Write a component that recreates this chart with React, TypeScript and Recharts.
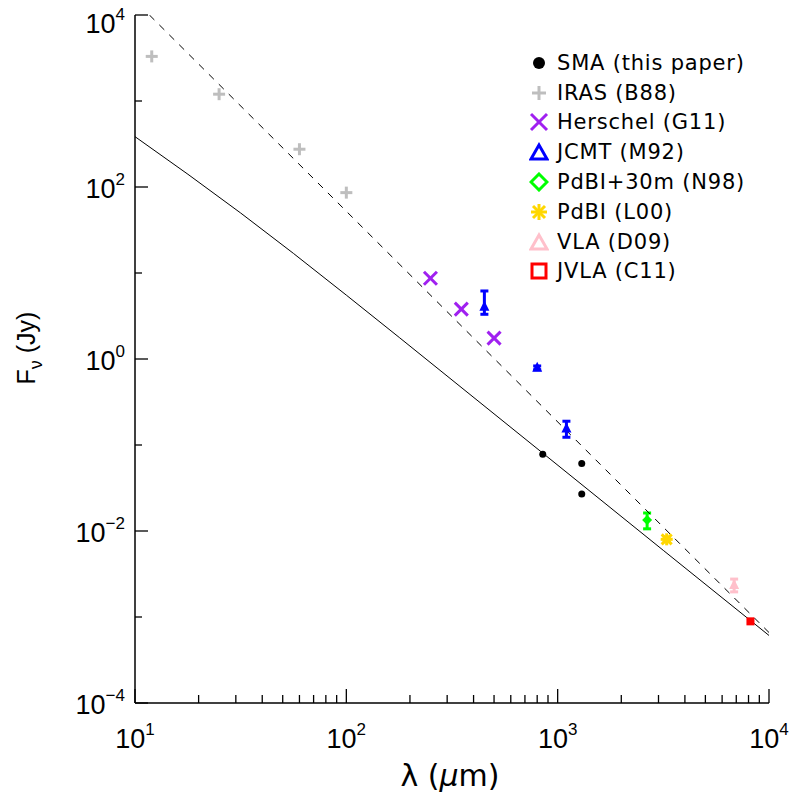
import React from 'react';
import { ScatterChart, Scatter, XAxis, YAxis, ErrorBar, Legend } from 'recharts';

// wavelength in micron, flux in Jy
const smaPoints = [
  { x: 850, y: 0.078 },
  { x: 1300, y: 0.061 },
  { x: 1300, y: 0.027 },
];
const irasPoints = [
  { x: 12, y: 3300 },
  { x: 25, y: 1200 },
  { x: 60, y: 275 },
  { x: 100, y: 86 },
];
const herschelPoints = [
  { x: 250, y: 8.7 },
  { x: 350, y: 3.8 },
  { x: 500, y: 1.75 },
];
const jcmtPoints = [
  { x: 450, y: 4.06, err: [0.75, 2.12] },
  { x: 800, y: 0.79, err: 0.04 },
  { x: 1100, y: 0.156, err: 0.033 },
];
const pdbi30mPoints = [{ x: 2650, y: 0.0134, err: 0.0028 }];
const pdbiPoints = [{ x: 3280, y: 0.008, err: 0.0005 }];
const vlaPoints = [{ x: 6840, y: 0.00236, err: 0.0004 }];
const jvlaPoints = [{ x: 8170, y: 0.00089 }];

// model curve (solid) and power-law fit (dashed)
const modelCurve = [
  { x: 10, y: 385 },
  { x: 17.8, y: 140.6 },
  { x: 31.6, y: 49.9 },
  { x: 56.2, y: 16.9 },
  { x: 100, y: 5.53 },
  { x: 178, y: 1.78 },
  { x: 850, y: 0.0805 },
  { x: 3160, y: 0.00596 },
  { x: 10000, y: 0.00061 },
];
const fitLine = [
  { x: 11.7, y: 10000 },
  { x: 10000, y: 0.00066 },
];

const xTicks = [
  10, 20, 30, 40, 50, 60, 70, 80, 90,
  100, 200, 300, 400, 500, 600, 700, 800, 900,
  1000, 2000, 3000, 4000, 5000, 6000, 7000, 8000, 9000, 10000,
];
const yTicks = [1e-4, 1e-3, 1e-2, 1e-1, 1, 10, 100, 1000, 10000];

const legendItems = [
  { name: 'SMA (this paper)', color: '#000000', symbol: 'dot' },
  { name: 'IRAS (B88)', color: '#BEBEBE', symbol: 'plus' },
  { name: 'Herschel (G11)', color: '#A020F0', symbol: 'cross' },
  { name: 'JCMT (M92)', color: '#0000FF', symbol: 'triangle' },
  { name: 'PdBI+30m (N98)', color: '#00FF00', symbol: 'diamond' },
  { name: 'PdBI (L00)', color: '#FFD700', symbol: 'asterisk' },
  { name: 'VLA (D09)', color: '#FFC0CB', symbol: 'triangle' },
  { name: 'JVLA (C11)', color: '#FF0000', symbol: 'square' },
];

const tickFont = '"Liberation Sans", Arial, sans-serif';
const textFont = '"DejaVu Sans", sans-serif';

const expOf = (v: number) => Math.round(Math.log10(v));
const isDecade = (v: number) => Math.abs(Math.log10(v) - expOf(v)) < 1e-6;

const XTick = (props: any) => {
  const { x, y, payload, side } = props;
  const v = payload.value;
  const major = isDecade(v);
  const len = major ? 14 : 8;
  const dir = side === 'top' ? 1 : -1;
  return (
    <g>
      <line x1={x} y1={y} x2={x} y2={y + dir * len} stroke="#000" strokeWidth={1.3} />
      {major && side !== 'top' && (
        <text x={x} y={y + 45} textAnchor="middle" fontSize={27} fontFamily={tickFont} fill="#000">
          10
          <tspan dy={-13} fontSize={17}>{expOf(v)}</tspan>
        </text>
      )}
    </g>
  );
};

const YTick = (props: any) => {
  const { x, y, payload, side } = props;
  const v = payload.value;
  const e = expOf(v);
  const major = e % 2 === 0;
  const len = major ? 13 : 7;
  const dir = side === 'right' ? -1 : 1;
  // the top label sits a little lower so it stays inside the page
  const shift = e === 4 ? 7 : 0;
  return (
    <g>
      <line x1={x} y1={y} x2={x + dir * len} y2={y} stroke="#000" strokeWidth={1.3} />
      {major && side !== 'right' && (
        <text x={x - 10} y={y + 11 + shift} textAnchor="end" fontSize={27} fontFamily={tickFont} fill="#000">
          10
          <tspan dy={-13} fontSize={17}>{e < 0 ? '\u2212' + Math.abs(e) : e}</tspan>
        </text>
      )}
    </g>
  );
};

const noShape = () => <g />;

const dotShape = (props: any) => <circle cx={props.cx} cy={props.cy} r={3.5} fill="#000" />;

const plusShape = (color: string) => (props: any) => {
  const { cx, cy } = props;
  return (
    <g stroke={color} strokeWidth={3}>
      <line x1={cx - 6} y1={cy} x2={cx + 6} y2={cy} />
      <line x1={cx} y1={cy - 6} x2={cx} y2={cy + 6} />
    </g>
  );
};

const crossShape = (color: string) => (props: any) => {
  const { cx, cy } = props;
  return (
    <g stroke={color} strokeWidth={3}>
      <line x1={cx - 6.5} y1={cy - 6.5} x2={cx + 6.5} y2={cy + 6.5} />
      <line x1={cx - 6.5} y1={cy + 6.5} x2={cx + 6.5} y2={cy - 6.5} />
    </g>
  );
};

const triangleShape = (color: string) => (props: any) => {
  const { cx, cy } = props;
  return <polygon points={`${cx},${cy - 6} ${cx - 5},${cy + 4} ${cx + 5},${cy + 4}`} fill={color} />;
};

const diamondShape = (color: string) => (props: any) => {
  const { cx, cy } = props;
  return <polygon points={`${cx},${cy - 5} ${cx + 5},${cy} ${cx},${cy + 5} ${cx - 5},${cy}`} fill={color} />;
};

const asteriskShape = (color: string) => (props: any) => {
  const { cx, cy } = props;
  return (
    <g stroke={color} strokeWidth={3}>
      <line x1={cx - 6} y1={cy} x2={cx + 6} y2={cy} />
      <line x1={cx} y1={cy - 6} x2={cx} y2={cy + 6} />
      <line x1={cx - 5} y1={cy - 5} x2={cx + 5} y2={cy + 5} />
      <line x1={cx - 5} y1={cy + 5} x2={cx + 5} y2={cy - 5} />
    </g>
  );
};

const squareShape = (color: string) => (props: any) => (
  <rect x={props.cx - 4} y={props.cy - 4} width={8} height={8} fill={color} />
);

const LegendSymbol = ({ symbol, color }: { symbol: string; color: string }) => {
  const c = 10;
  let body: React.ReactNode = null;
  if (symbol === 'dot') body = <circle cx={c} cy={c} r={6} fill={color} />;
  if (symbol === 'plus')
    body = (
      <g stroke={color} strokeWidth={3}>
        <line x1={c - 7} y1={c} x2={c + 7} y2={c} />
        <line x1={c} y1={c - 7} x2={c} y2={c + 7} />
      </g>
    );
  if (symbol === 'cross')
    body = (
      <g stroke={color} strokeWidth={3}>
        <line x1={c - 8} y1={c - 8} x2={c + 8} y2={c + 8} />
        <line x1={c - 8} y1={c + 8} x2={c + 8} y2={c - 8} />
      </g>
    );
  if (symbol === 'triangle')
    body = <polygon points={`${c},${c - 7} ${c - 8},${c + 7} ${c + 8},${c + 7}`} fill="none" stroke={color} strokeWidth={3} />;
  if (symbol === 'diamond')
    body = <polygon points={`${c},${c - 8} ${c + 8},${c} ${c},${c + 8} ${c - 8},${c}`} fill="none" stroke={color} strokeWidth={3} />;
  if (symbol === 'asterisk')
    body = (
      <g stroke={color} strokeWidth={3}>
        <line x1={c - 8} y1={c} x2={c + 8} y2={c} />
        <line x1={c} y1={c - 8} x2={c} y2={c + 8} />
        <line x1={c - 6} y1={c - 6} x2={c + 6} y2={c + 6} />
        <line x1={c - 6} y1={c + 6} x2={c + 6} y2={c - 6} />
      </g>
    );
  if (symbol === 'square')
    body = <rect x={c - 7} y={c - 7} width={14} height={14} fill="none" stroke={color} strokeWidth={3} />;
  return (
    <svg width={20} height={20} style={{ display: 'block' }}>
      {body}
    </svg>
  );
};

const renderLegend = () => (
  <div>
    {legendItems.map((item) => (
      <div key={item.name} style={{ display: 'flex', alignItems: 'center', height: 29.8 }}>
        <LegendSymbol symbol={item.symbol} color={item.color} />
        <span
          style={{
            marginLeft: 8,
            fontFamily: textFont,
            fontSize: 21,
            letterSpacing: 0.8,
            color: '#000',
            whiteSpace: 'nowrap',
          }}
        >
          {item.name}
        </span>
      </div>
    ))}
  </div>
);

export default function App() {
  return (
    <div style={{ position: 'absolute', left: 0, top: 0, background: '#fff' }}>
      <ScatterChart width={800} height={800} margin={{ top: 15, right: 31, bottom: 37, left: 35 }}>
        <XAxis
          xAxisId="bottom"
          dataKey="x"
          type="number"
          scale="log"
          domain={[10, 10000]}
          allowDataOverflow
          ticks={xTicks}
          interval={0}
          height={60}
          tickSize={0}
          tickMargin={0}
          tickLine={false}
          axisLine={{ stroke: '#000', strokeWidth: 1.5 }}
          tick={<XTick side="bottom" />}
        />
        <XAxis
          xAxisId="top"
          orientation="top"
          dataKey="x"
          type="number"
          scale="log"
          domain={[10, 10000]}
          allowDataOverflow
          ticks={xTicks}
          interval={0}
          height={0}
          tickSize={0}
          tickMargin={0}
          tickLine={false}
          axisLine={{ stroke: '#000', strokeWidth: 1.5 }}
          tick={<XTick side="top" />}
        />
        <YAxis
          yAxisId="left"
          dataKey="y"
          type="number"
          scale="log"
          domain={[1e-4, 1e4]}
          allowDataOverflow
          ticks={yTicks}
          interval={0}
          width={100}
          tickSize={0}
          tickMargin={0}
          tickLine={false}
          axisLine={{ stroke: '#000', strokeWidth: 1.5 }}
          tick={<YTick side="left" />}
        />
        <YAxis
          yAxisId="right"
          orientation="right"
          dataKey="y"
          type="number"
          scale="log"
          domain={[1e-4, 1e4]}
          allowDataOverflow
          ticks={yTicks}
          interval={0}
          width={0}
          tickSize={0}
          tickMargin={0}
          tickLine={false}
          axisLine={{ stroke: '#000', strokeWidth: 1.5 }}
          tick={<YTick side="right" />}
        />

        <Scatter
          xAxisId="bottom"
          yAxisId="left"
          data={modelCurve}
          line={{ stroke: '#000', strokeWidth: 1 }}
          lineType="joint"
          shape={noShape}
          isAnimationActive={false}
        />
        <Scatter
          xAxisId="top"
          yAxisId="right"
          data={fitLine}
          line={{ stroke: '#000', strokeWidth: 1, strokeDasharray: '7 7' }}
          shape={noShape}
          isAnimationActive={false}
        />

        <Scatter xAxisId="bottom" yAxisId="left" data={irasPoints} shape={plusShape('#BEBEBE')} isAnimationActive={false} />
        <Scatter xAxisId="bottom" yAxisId="left" data={herschelPoints} shape={crossShape('#A020F0')} isAnimationActive={false} />
        <Scatter xAxisId="bottom" yAxisId="left" data={jcmtPoints} shape={triangleShape('#0000FF')} isAnimationActive={false}>
          <ErrorBar dataKey="err" direction="y" stroke="#0000FF" strokeWidth={3} width={4} />
        </Scatter>
        <Scatter xAxisId="bottom" yAxisId="left" data={smaPoints} shape={dotShape} isAnimationActive={false} />
        <Scatter xAxisId="bottom" yAxisId="left" data={pdbi30mPoints} shape={diamondShape('#00FF00')} isAnimationActive={false}>
          <ErrorBar dataKey="err" direction="y" stroke="#00FF00" strokeWidth={3} width={4} />
        </Scatter>
        <Scatter xAxisId="bottom" yAxisId="left" data={pdbiPoints} shape={asteriskShape('#FFD700')} isAnimationActive={false}>
          <ErrorBar dataKey="err" direction="y" stroke="#FFD700" strokeWidth={3} width={4} />
        </Scatter>
        <Scatter xAxisId="bottom" yAxisId="left" data={vlaPoints} shape={triangleShape('#FFC0CB')} isAnimationActive={false}>
          <ErrorBar dataKey="err" direction="y" stroke="#FFC0CB" strokeWidth={3} width={4} />
        </Scatter>
        <Scatter xAxisId="bottom" yAxisId="left" data={jvlaPoints} shape={squareShape('#FF0000')} isAnimationActive={false} />

        <Legend
          layout="vertical"
          align="center"
          verticalAlign="middle"
          content={renderLegend}
          wrapperStyle={{ position: 'absolute', top: 48, left: 529, width: 265, height: 240 }}
        />

        <text x={450} y={786} textAnchor="middle" fontSize={30} fontFamily={textFont} fill="#000">
          λ (<tspan fontStyle="italic">μ</tspan>m)
        </text>
        <text
          x={0}
          y={0}
          transform="translate(35, 348) rotate(-90)"
          textAnchor="middle"
          fontSize={25}
          fontFamily={tickFont}
          fill="#000"
        >
          F<tspan dy={7} fontSize={18}>ν</tspan>
          <tspan dy={-7}> (Jy)</tspan>
        </text>
      </ScatterChart>
    </div>
  );
}
